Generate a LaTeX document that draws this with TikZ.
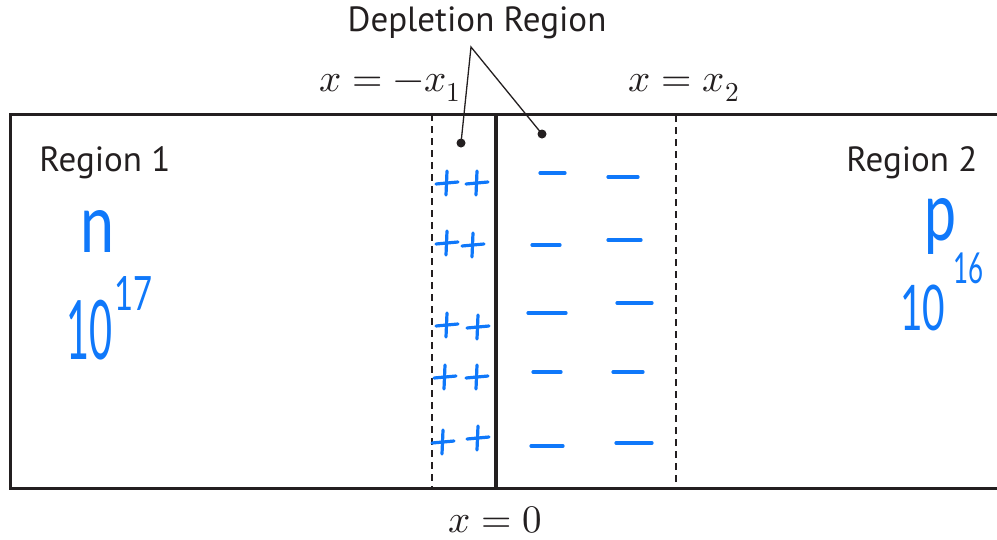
\documentclass[tikz,border=0pt]{standalone}
\usepackage{fontspec}
\usepackage{unicode-math}
\setmathfont{Latin Modern Math}
\newfontfamily\labelfont{PT Sans}
\newfontfamily\handfont{Lato}
\usepackage{graphicx}
\definecolor{ink}{RGB}{35,31,32}
\definecolor{pen}{RGB}{15,120,250}
\tikzset{
  frame/.style={draw=ink, line width=3pt},
  depl/.style={draw=ink, line width=2.6pt, dash pattern=on 7pt off 5pt},
  junction/.style={draw=ink, line width=4.5pt},
  lbl/.style={text=ink, inner sep=0pt, font=\labelfont\fontsize{35}{40}\selectfont},
  mlbl/.style={text=ink, inner sep=0pt, font=\fontsize{39}{44}\selectfont},
  hand/.style={text=pen, inner sep=0pt, font=\handfont},
  stroke/.style={draw=pen, line width=3.2pt, line cap=round},
  leader/.style={draw=ink, line width=1.3pt},
  plusmark/.pic={\draw[stroke] (-11,1) -- (11,-1); \draw[stroke] (0,-12) -- (-1,12);}
}
\begin{document}
\begin{tikzpicture}[x=1pt,y=-1pt]
\useasboundingbox (0,0) rectangle (997,539);
% outer slab
\coordinate (tl) at (10,114);
\coordinate (br) at (1001,488);
\draw[frame] (tl) rectangle (br);
% depletion boundaries
\coordinate (dtl) at (432,114);
\coordinate (dbr) at (676,488);
\draw[depl] (dtl) rectangle (dbr);
% metallurgical junction
\coordinate (jt) at (496,114);
\coordinate (jb) at (496,488);
\draw[junction] (jt) -- (jb);
% labels
\node[lbl] (dep) at (477,23) {Depletion Region};
\node[lbl] (r1) at (105,163) {Region 1};
\node[lbl] (r2) at (912,163) {Region 2};
\node[mlbl] (xm) at (390,88) {$x=-x_1$};
\node[mlbl] (xp) at (684,88) {$x=x_2$};
\node[mlbl] (x0) at (495,520) {$x=0$};
% leaders
\coordinate (apex) at (471,47);
\node[circle, fill=ink, inner sep=0pt, minimum size=9pt] (d1) at (461,143) {};
\node[circle, fill=ink, inner sep=0pt, minimum size=9pt] (d2) at (542,134) {};
\draw[leader] (d1.center) -- (apex) -- (d2.center);
% handwritten doping
\node[hand, anchor=north west] (nn) at (80,210) {\resizebox*{34pt}{42pt}{n}};
\node[hand, anchor=north west] (n10) at (66,300) {\resizebox*{46pt}{60pt}{10}};
\node[hand, anchor=north west] (n17) at (114,276) {\resizebox*{38pt}{34pt}{17}};
\node[hand, anchor=north west] (pp) at (924,198) {\resizebox*{32pt}{56pt}{p}};
\node[hand, anchor=north west] (p10) at (900,285) {\resizebox*{45pt}{46pt}{10}};
\node[hand, anchor=north west] (p16) at (953,253) {\resizebox*{30pt}{31pt}{16}};
% positive charges
\foreach \px/\py in {447/183,477/183,447/243,473/245,447/325,478/327,445/377,477/377,443/442,478/438}
  \pic at (\px,\py) {plusmark};
% negative charges
\foreach \xa/\xb/\yy in {540/565/173,608/638/177,532/560/245,608/641/240,528/566/313,617/652/303,533/561/372,613/643/372,531/563/446,616/652/443}
  \draw[stroke] (\xa,\yy) -- (\xb,\yy);
\end{tikzpicture}
\end{document}
